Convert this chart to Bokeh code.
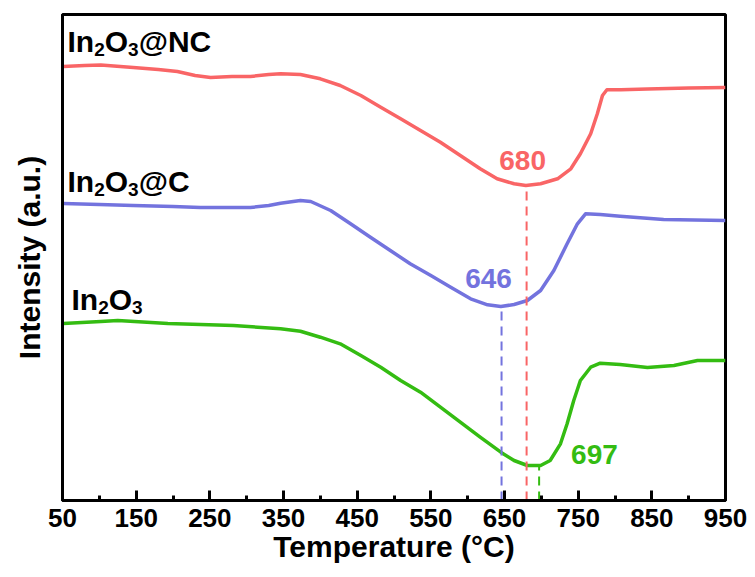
from bokeh.plotting import figure
from bokeh.models import FixedTicker, Label, Range1d
from bokeh.embed import file_html
from bokeh.resources import INLINE

# ---- data (intensity in arbitrary units) ----
nc_T = [51, 80, 102, 146, 180, 206, 230, 251, 280, 305, 330, 346, 373, 400, 427, 455,
        482, 509, 536, 563, 590, 617, 640, 663, 679, 699, 722, 740, 753, 767, 776,
        783, 789, 808, 844, 900, 950]
nc_I = [434, 435, 435.5, 433, 431, 429, 425, 423, 424, 424, 426, 426.7, 426, 421.7, 415, 405,
        393.3, 381.7, 370, 358.3, 345, 331.7, 321.7, 316.7, 315, 316.7, 321.7, 331.7, 346.7,
        366.7, 386.7, 405, 410.7, 410.7, 411.5, 412.5, 413]

c_T = [51, 100, 146, 200, 237, 280, 305, 330, 346, 373, 387, 414, 441, 468, 495, 522,
       550, 577, 604, 627, 645, 663, 681, 699, 717, 735, 749, 760, 780, 807, 866, 950]
c_I = [297, 296, 295, 294, 293, 293, 293, 295, 297.3, 300, 299, 290, 276.7, 263.3, 250,
       236.7, 225, 213.3, 201.7, 195.7, 194, 196, 200, 210, 230, 256.7, 276.7, 286.7,
       286, 284.3, 281, 280]

o_T = [51, 102, 125, 193, 282, 346, 373, 400, 427, 455, 482, 509, 536, 563, 590, 617,
       645, 663, 681, 699, 712, 726, 735, 744, 753, 767, 780, 807, 844, 880, 912, 950]
o_I = [177, 179, 180, 177, 175, 171.7, 169.3, 163.3, 156.7, 145, 133.3, 120, 108.3, 93.3,
       78.3, 63.3, 48.3, 40, 35, 35, 40, 56.7, 76.7, 100, 120, 133.3, 137.3, 136, 133,
       135, 140, 140]

peak_T = [680, 646, 697]
peak_I = [315, 194, 35]
peak_names = ["680", "646", "697"]

x_ticks = [50, 150, 250, 350, 450, 550, 650, 750, 850, 950]
x_minor = [100, 200, 300, 400, 500, 600, 700, 800, 900]

RED = "#F96566"
BLUE = "#7373DE"
GREEN = "#34BC12"
FONT = "Liberation Sans"

p = figure(width=755, height=577, output_backend="svg", toolbar_location=None,
           x_range=Range1d(50, 950), y_range=Range1d(0, 486),
           min_border_left=62, min_border_right=30, min_border_top=14, min_border_bottom=77)
p.grid.grid_line_color = None
p.outline_line_color = "black"
p.outline_line_width = 3
p.background_fill_color = "white"

# x axis
xa = p.xaxis[0]
xa.ticker = FixedTicker(ticks=x_ticks, minor_ticks=x_minor)
xa.axis_line_width = 3
xa.major_tick_line_width = 3
xa.minor_tick_line_width = 3
xa.major_tick_in = 10
xa.major_tick_out = 0
xa.minor_tick_in = 5
xa.minor_tick_out = 0
xa.major_label_text_font = FONT
xa.major_label_text_font_style = "bold"
xa.major_label_text_font_size = "26px"
xa.major_label_text_color = "black"
xa.major_label_standoff = 8
xa.axis_label = "Temperature (°C)"
xa.axis_label_text_font = FONT
xa.axis_label_text_font_style = "bold"
xa.axis_label_text_font_size = "30px"
xa.axis_label_text_color = "black"
xa.axis_label_standoff = 0

# y axis
ya = p.yaxis[0]
ya.axis_line_width = 3
ya.major_tick_in = 0
ya.major_tick_out = 0
ya.minor_tick_in = 0
ya.minor_tick_out = 0
ya.major_label_text_font_size = "0px"
ya.major_label_text_color = None
ya.axis_label = "Intensity (a.u.)"
ya.axis_label_text_font = FONT
ya.axis_label_text_font_style = "bold"
ya.axis_label_text_font_size = "30px"
ya.axis_label_text_color = "black"
ya.axis_label_standoff = 17

# curves
p.line(nc_T, nc_I, line_color=RED, line_width=3.5, line_join="round")
p.line(c_T, c_I, line_color=BLUE, line_width=3.5, line_join="round")
p.line(o_T, o_I, line_color=GREEN, line_width=3.5, line_join="round")

# dashed markers
cols = [RED, BLUE, GREEN]
for t, i, c in zip(peak_T, peak_I, cols):
    p.line([t, t], [0, i], line_color=c, line_width=2, line_dash="9 6")

# peak value labels
p.add_layout(Label(x=peak_T[0], y=peak_I[0], text=peak_names[0], x_offset=-4, y_offset=16,
                   text_align="center", text_baseline="bottom", text_color=RED,
                   text_font=FONT, text_font_style="bold", text_font_size="28px"))
p.add_layout(Label(x=peak_T[1], y=peak_I[1], text=peak_names[1], x_offset=-13, y_offset=19,
                   text_align="center", text_baseline="bottom", text_color=BLUE,
                   text_font=FONT, text_font_style="bold", text_font_size="28px"))
p.add_layout(Label(x=peak_T[2], y=peak_I[2], text=peak_names[2], x_offset=32, y_offset=2,
                   text_align="left", text_baseline="bottom", text_color=GREEN,
                   text_font=FONT, text_font_style="bold", text_font_size="28px"))


def chem_label(sx, sy, parts):
    """parts: list of (text, is_subscript); sx, sy: frame screen coords of baseline start"""
    widths = {"In": 0.889, "O": 0.778, "@NC": 2.419, "@C": 1.697, "2": 0.556, "3": 0.556}
    x = sx
    for txt, sub in parts:
        size = 19 if sub else 30
        yy = sy - 8 if sub else sy
        p.add_layout(Label(x=x, y=yy, x_units="screen", y_units="screen", text=txt,
                           text_align="left", text_baseline="alphabetic", text_color="black",
                           text_font=FONT, text_font_style="bold",
                           text_font_size=f"{size}px"))
        x += widths[txt] * size


# frame is 486 px tall; screen y measured upward from frame bottom
chem_label(5, 486 - 27, [("In", False), ("2", True), ("O", False), ("3", True), ("@NC", False)])
chem_label(5, 486 - 167, [("In", False), ("2", True), ("O", False), ("3", True), ("@C", False)])
chem_label(9, 486 - 285, [("In", False), ("2", True), ("O", False), ("3", True)])

open("out.html", "w").write(file_html(p, INLINE))
